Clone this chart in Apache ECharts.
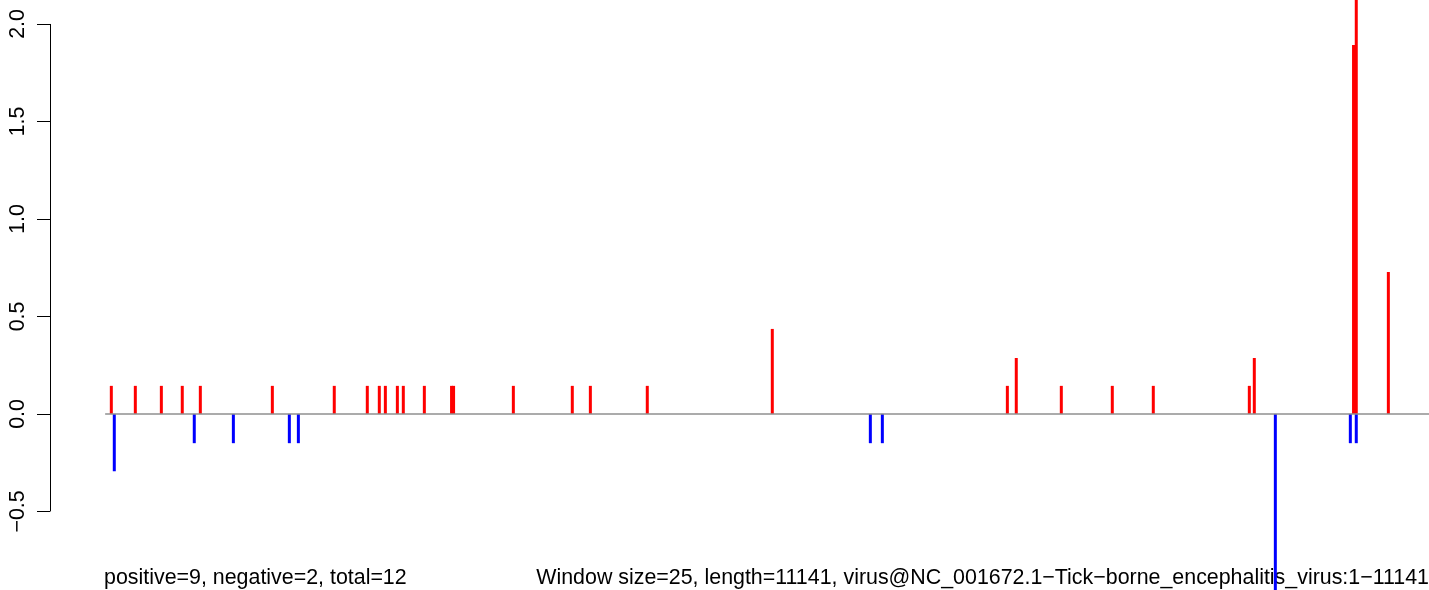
<!DOCTYPE html>
<html>
<head>
<meta charset="utf-8">
<script src="https://cdn.jsdelivr.net/npm/echarts@6/dist/echarts.min.js"></script>
<style>
html,body{margin:0;padding:0;background:#fff;}
#c{width:1429px;height:590px;}
</style>
</head>
<body>
<div id="c"></div>
<script>
// genome positions (bp) and scores
const posPositions = [53,255,474,650,802,1408,1929,2207,2308,2359,2460,2510,2687,2916,2933,3436,3932,4084,4563,5615,7593,7668,8047,8476,8821,9629,9671,10506,10529,10799];
const posValues    = [0.144,0.144,0.144,0.144,0.144,0.144,0.144,0.144,0.144,0.144,0.144,0.144,0.144,0.144,0.144,0.144,0.144,0.144,0.144,0.436,0.144,0.287,0.144,0.144,0.144,0.144,0.287,1.892,2.3,0.728];
const negPositions = [78,751,1080,1551,1627,6440,6541,9848,10479,10529];
const negValues    = [-0.294,-0.15,-0.15,-0.15,-0.15,-0.15,-0.15,-1.0,-0.15,-0.15];
const yTicks = [-0.5,0.0,0.5,1.0,1.5,2.0];
const genomeLength = 11141;
const xMin = -463;
const yMin = -0.903, yMax = 2.123;
const leftText = 'positive=9, negative=2, total=12';
const rightText = 'Window size=25, length=11141, virus@NC_001672.1\u2212Tick\u2212borne_encephalitis_virus:1\u221211141';

const FONT = '"Liberation Sans", Arial, sans-serif';
const chart = echarts.init(document.getElementById('c'), null, {renderer:'canvas'});
const posData = posPositions.map((p,i)=>[p,posValues[i]]);
const negData = negPositions.map((p,i)=>[p,negValues[i]]);

chart.setOption({
  animation:false,
  backgroundColor:'#ffffff',
  grid:{left:50,right:0,top:0,bottom:0,containLabel:false},
  xAxis:{type:'value',min:xMin,max:genomeLength,show:false},
  yAxis:{
    type:'value',min:yMin,max:yMax,
    splitLine:{show:false},
    axisLine:{show:false,onZero:false},
    axisTick:{show:true,length:13,customValues:yTicks,lineStyle:{color:'#000',width:1}},
    axisLabel:{
      rotate:90,margin:21,color:'#000',fontSize:21.4,fontFamily:FONT,customValues:yTicks,
      formatter:function(v){ return v.toFixed(1).replace('-','\u2212'); }
    }
  },
  series:[
    {type:'bar',data:posData,barWidth:3,barGap:'-100%',itemStyle:{color:'#FF0000'},z:2,silent:true},
    {type:'bar',data:negData,barWidth:3,barGap:'-100%',itemStyle:{color:'#0000FF'},z:2,silent:true},
    {type:'line',data:[[1,0],[genomeLength,0]],showSymbol:false,symbol:'none',clip:false,
     lineStyle:{color:'#8f8f8f',width:1.5},z:3,silent:true,
     markLine:{silent:true,symbol:['none','none'],label:{show:false},
       lineStyle:{color:'#000',width:1,type:'solid'},
       data:[[{coord:[xMin,yTicks[0]]},{coord:[xMin,yTicks[yTicks.length-1]]}]]}
    }
  ],
  graphic:[
    {type:'text',left:104,top:568,style:{text:leftText,font:'21.4px '+FONT,fill:'#000'}},
    {type:'text',right:0,top:568,style:{text:rightText,font:'21.4px '+FONT,fill:'#000'}}
  ]
});
</script>
</body>
</html>
